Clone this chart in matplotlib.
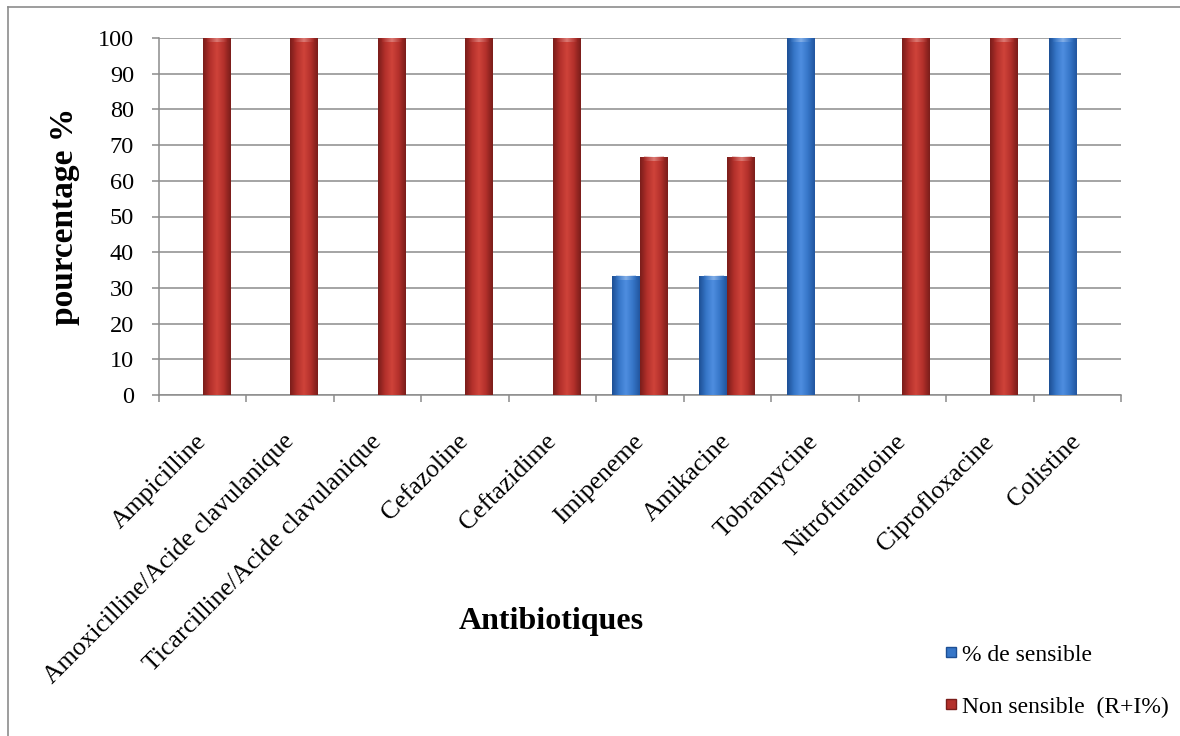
import numpy as np
import matplotlib
matplotlib.use("Agg")
import matplotlib.pyplot as plt
from matplotlib.colors import LinearSegmentedColormap
from matplotlib.lines import Line2D

# data
categories = ["Ampicilline", "Amoxicilline/Acide clavulanique",
              "Ticarcilline/Acide clavulanique", "Cefazoline", "Ceftazidime",
              "Imipeneme", "Amikacine", "Tobramycine", "Nitrofurantoine",
              "Ciprofloxacine", "Colistine"]
sensible = [0, 0, 0, 0, 0, 33.3, 33.3, 100, 0, 0, 100]
non_sensible = [100, 100, 100, 100, 100, 66.7, 66.7, 0, 100, 100, 0]
series_names = ["% de sensible", "Non sensible  (R+I%)"]

plt.rcParams["font.family"] = ["Liberation Serif", "DejaVu Serif"]

fig = plt.figure(figsize=(11.8, 7.36), dpi=100)
ax = fig.add_axes([159 / 1180, 1 - 395 / 736, (1121 - 159) / 1180, (395 - 38) / 736])

# cylinder-like shading for the bars
blue_cmap = LinearSegmentedColormap.from_list(
    "blue_cyl", ["#1d4f94", "#3676c8", "#4f8ee0", "#3676c8", "#22569f"])
red_cmap = LinearSegmentedColormap.from_list(
    "red_cyl", ["#7a1d1a", "#b3302b", "#cf433a", "#b3302b", "#7a1d1a"])
grad = np.linspace(0, 1, 64).reshape(1, -1)

x = np.arange(len(categories))
w = 0.32

def shaded_bars(xpos, values, cmap, base):
    bars = ax.bar(xpos, values, w, color=base, edgecolor="none", zorder=3)
    for b in bars:
        h = b.get_height()
        if h <= 0:
            continue
        x0 = b.get_x()
        im = ax.imshow(grad, extent=[x0, x0 + w, 0, h], aspect="auto",
                       cmap=cmap, zorder=3.5, interpolation="bicubic")
        im.set_clip_path(b)
        # light cap at the top
        ax.imshow(grad, extent=[x0 + w * 0.15, x0 + w * 0.85, h - 1.2, h],
                  aspect="auto", cmap=LinearSegmentedColormap.from_list(
                      "cap", [base, "#ffffff", base]), alpha=0.3, zorder=3.6)
    return bars

shaded_bars(x - w / 2, sensible, blue_cmap, "#3676c8")
shaded_bars(x + w / 2, non_sensible, red_cmap, "#b3302b")

ax.set_xlim(-0.5, len(categories) - 0.5)
ax.set_ylim(0, 100)
ax.set_yticks(np.arange(0, 101, 10))
ax.yaxis.grid(True, color="#8c8c8c", linewidth=1.1, zorder=0)
ax.set_axisbelow(True)

for s in ["top", "right"]:
    ax.spines[s].set_visible(False)
for s in ["left", "bottom"]:
    ax.spines[s].set_color("#8c8c8c")
    ax.spines[s].set_linewidth(1.1)

ax.tick_params(axis="y", direction="out", length=5, width=1.1, color="#8c8c8c",
               pad=13, labelsize=17.5)
ax.set_xticks(x)
ax.set_xticklabels(categories, rotation=45, ha="right", va="center",
                   rotation_mode="anchor", fontsize=18.5)
ax.set_xticks(np.arange(-0.5, len(categories), 1), minor=True)
ax.tick_params(axis="x", which="major", length=0, pad=31)
ax.tick_params(axis="x", which="minor", direction="out", length=5, width=1.1,
               color="#8c8c8c")

ax.set_ylabel("pourcentage %", fontsize=24, fontweight="bold", labelpad=13)
fig.text(551 / 1180, 1 - 621 / 736, "Antibiotiques", fontsize=23,
         fontweight="bold", ha="center", va="center")

handles = [Line2D([], [], marker="s", linestyle="none", markersize=7,
                  markerfacecolor="#3676c8", markeredgecolor="#1d4f94"),
           Line2D([], [], marker="s", linestyle="none", markersize=7,
                  markerfacecolor="#b3302b", markeredgecolor="#7a1d1a")]
fig.legend(handles, series_names, loc="upper left",
           bbox_to_anchor=(944 / 1180, 1 - 644 / 736), frameon=False,
           fontsize=17, handlelength=0.6, handletextpad=0.15,
           labelspacing=1.3, borderpad=0, borderaxespad=0)

# outer frame (top and left edges visible in the original)
fig.add_artist(Line2D([8 / 1180, 1.0], [1 - 7 / 736, 1 - 7 / 736],
                      color="#8c8c8c", linewidth=1.2))
fig.add_artist(Line2D([8 / 1180, 8 / 1180], [0.0, 1 - 7 / 736],
                      color="#8c8c8c", linewidth=1.2))

fig.savefig("out.png", dpi=100)
